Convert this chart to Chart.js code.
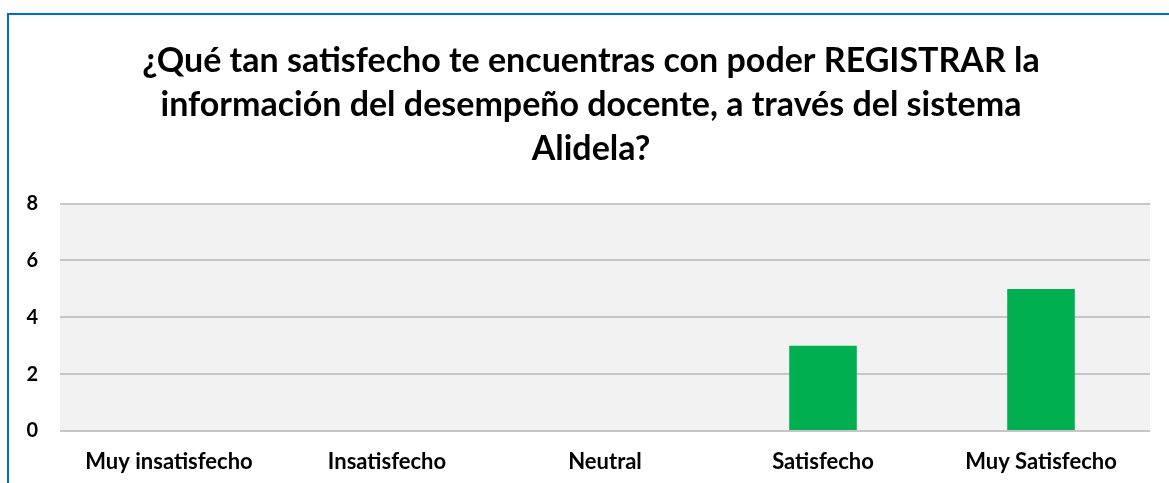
<!DOCTYPE html>
<html>
<head>
<meta charset="utf-8">
<script src="https://cdn.jsdelivr.net/npm/chart.js@4/dist/chart.umd.min.js"></script>
<style>
html,body{margin:0;padding:0;background:#fff;overflow:hidden;width:1169px;height:483px;}
#wrap{position:absolute;left:0;top:0;width:1182px;height:483px;}
#frame{position:absolute;left:7px;top:13px;width:1200px;height:600px;border:2px solid #0070C0;box-sizing:border-box;pointer-events:none;}
</style>
</head>
<body>
<div id="wrap"><canvas id="c" width="1182" height="483"></canvas></div>
<div id="frame"></div>
<script>
const categories = ["Muy insatisfecho", "Insatisfecho", "Neutral", "Satisfecho", "Muy Satisfecho"];
const counts = [0, 0, 0, 3, 5];
const titleLines = ["¿Qué tan satisfecho te encuentras con poder REGISTRAR la", "información del desempeño docente, a través del sistema", "Alidela?"];
const yMin = 0, yMax = 8, yStep = 2;

const bgPlugin = {
  id: 'plotBg',
  beforeDraw(chart) {
    const a = chart.chartArea, ctx = chart.ctx;
    ctx.save();
    ctx.fillStyle = '#F2F2F2';
    ctx.fillRect(a.left, a.top, a.right - a.left, a.bottom - a.top);
    ctx.restore();
  }
};

new Chart(document.getElementById('c'), {
  type: 'bar',
  data: {
    labels: categories,
    datasets: [{
      data: counts,
      backgroundColor: '#00B050',
      borderWidth: 0,
      categoryPercentage: 1,
      barPercentage: 0.31
    }]
  },
  plugins: [bgPlugin],
  options: {
    responsive: false,
    animation: false,
    layout: { padding: { left: 0, right: 0, top: 39, bottom: 0 } },
    plugins: {
      legend: { display: false },
      tooltip: { enabled: false },
      title: {
        display: true,
        text: titleLines,
        color: '#000',
        font: { family: 'Lato', size: 34, weight: 'bold', lineHeight: 1.3 },
        padding: { top: 0, bottom: 32 }
      }
    },
    scales: {
      x: {
        grid: { display: false, drawTicks: false },
        border: { display: false },
        ticks: { color: '#000', font: { family: 'Lato', size: 22, weight: 'bold' }, padding: 18, maxRotation: 0 },
        afterFit(s) { s.height = 52; }
      },
      y: {
        min: yMin, max: yMax,
        grid: { color: '#C6C6C6', lineWidth: 2, drawTicks: false },
        border: { display: false },
        ticks: { stepSize: yStep, color: '#000', font: { family: 'Lato', size: 20, weight: 'bold' }, padding: 22 },
        afterFit(s) { s.width = 60; }
      },
      yRight: {
        position: 'right',
        min: yMin, max: yMax,
        grid: { display: false, drawTicks: false },
        border: { display: false },
        ticks: { display: false },
        afterFit(s) { s.width = 32; }
      }
    }
  }
});
</script>
</body>
</html>
